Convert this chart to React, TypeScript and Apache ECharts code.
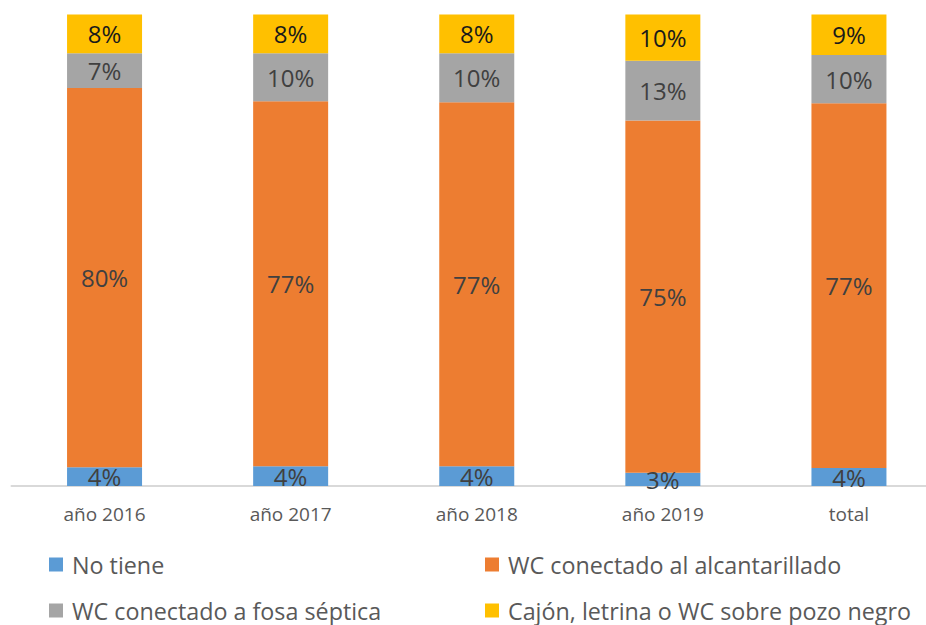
import React, { useEffect, useRef } from "react";
import * as echarts from "echarts";

const categories = ["año 2016", "año 2017", "año 2018", "año 2019", "total"];
const seriesNames = [
  "No tiene",
  "WC conectado al alcantarillado",
  "WC conectado a fosa séptica",
  "Cajón, letrina o WC sobre pozo negro",
];
const noTiene = [4.0, 4.2, 4.2, 2.8, 3.8];
const alcantarillado = [80.4, 77.4, 77.2, 74.7, 77.4];
const fosaSeptica = [7.4, 10.2, 10.4, 12.7, 10.2];
const pozoNegro = [8.2, 8.2, 8.2, 9.8, 8.6];
const colors = ["#5B9BD5", "#ED7D31", "#A5A5A5", "#FFC000"];
const labelColors = ["#404040", "#404040", "#404040", "#1a1a1a"];

const FONT = "'Open Sans', 'Liberation Sans', sans-serif";

export default function App() {
  const ref = useRef<HTMLDivElement>(null);
  useEffect(() => {
    document.body.style.margin = "0";
    if (!ref.current) return;
    const chart = echarts.init(ref.current, undefined, { renderer: "svg" });
    const values = [noTiene, alcantarillado, fosaSeptica, pozoNegro];
    const legendPos = [
      { left: 49, top: 553 },
      { left: 485, top: 553 },
      { left: 49, top: 599 },
      { left: 485, top: 599 },
    ];
    chart.setOption({
      animation: false,
      backgroundColor: "#ffffff",
      grid: { left: 11.5, right: 0, top: 14.5, bottom: 139, containLabel: false },
      xAxis: {
        type: "category",
        data: categories,
        axisTick: { show: false },
        axisLine: { lineStyle: { color: "#d9d9d9", width: 2 } },
        axisLabel: { color: "#595959", fontSize: 19, fontFamily: FONT, margin: 18 },
      },
      yAxis: { type: "value", min: 0, max: 100, show: false, splitLine: { show: false } },
      legend: seriesNames.map((n, i) => ({
        data: [n],
        left: legendPos[i].left,
        top: legendPos[i].top,
        padding: 0,
        itemWidth: 14,
        itemHeight: 14,
        icon: "rect",
        textStyle: { color: "#595959", fontSize: 23.3, fontFamily: FONT, padding: [0, 0, 0, 4] },
      })),
      series: seriesNames.map((n, i) => ({
        name: n,
        type: "bar",
        stack: "total",
        barWidth: 75,
        data: values[i],
        itemStyle: { color: colors[i] },
        label: {
          show: true,
          position: "inside",
          formatter: (p: any) => Math.round(p.value) + "%",
          color: labelColors[i],
          fontSize: 24,
          fontFamily: FONT,
        },
      })),
    });
    return () => chart.dispose();
  }, []);
  return (
    <div style={{ width: 926, height: 625, overflow: "hidden", position: "relative" }}>
      <div ref={ref} style={{ width: 942, height: 625 }} />
    </div>
  );
}
